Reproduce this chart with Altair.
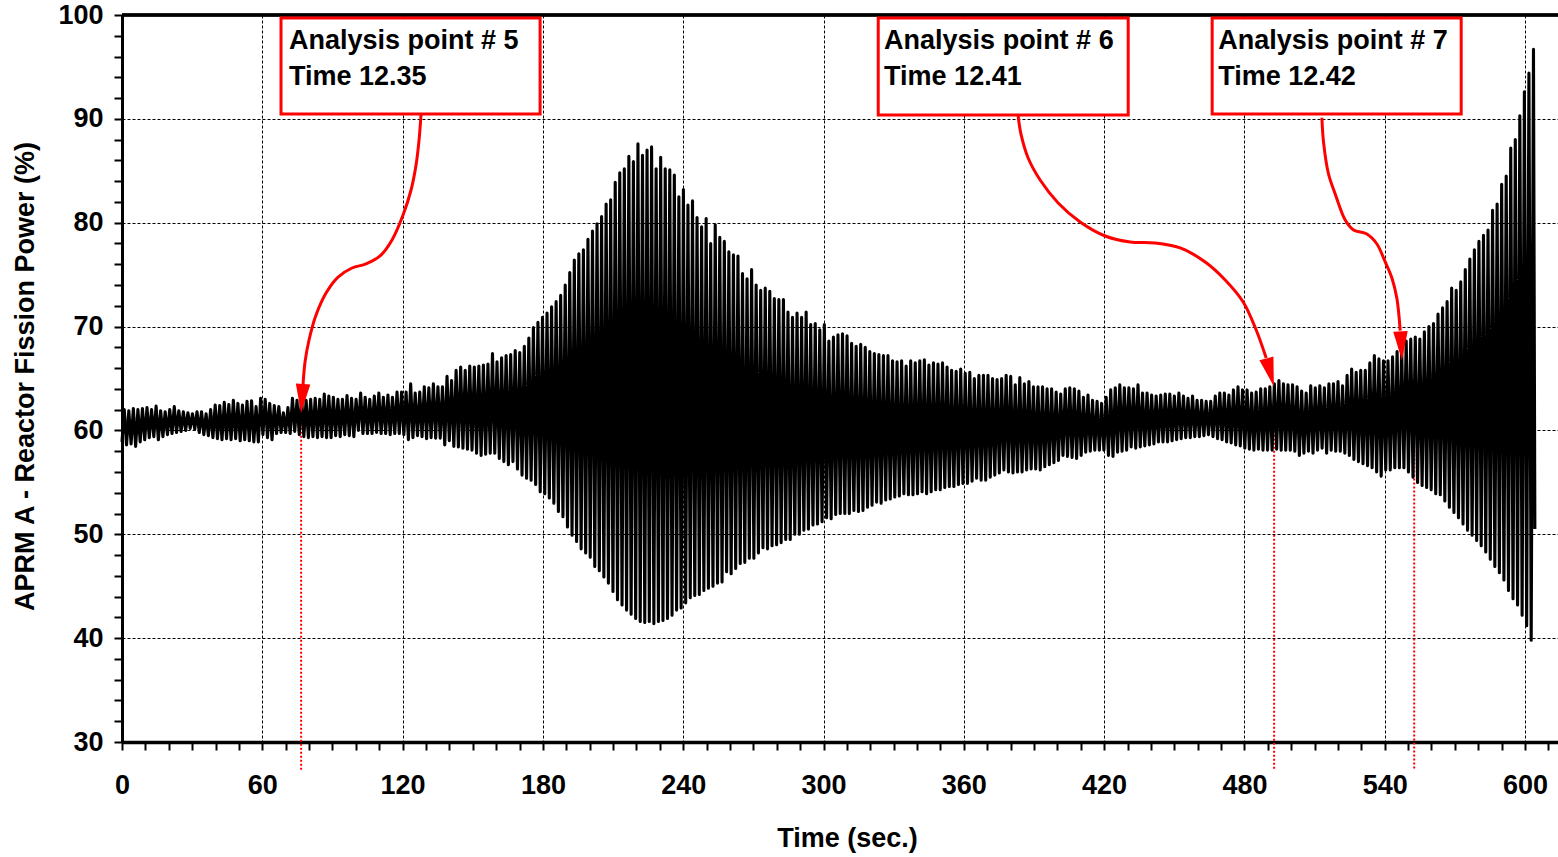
import altair as alt
import pandas as pd

# ---------------- data ----------------
PERIOD = 1.944          # seconds per oscillation cycle
END_TIME = 604.2
END_VALUE = 50.5

# peak value of each cycle (rows of 10 cycles)
peaks = [
    62.0, 61.9, 62.1, 62.0, 62.1, 62.2, 62.0, 62.35, 61.9, 61.8,
    62.0, 62.3, 61.9, 61.8, 61.7, 61.6, 61.8, 61.8, 61.6, 62.0,
    62.45, 62.4, 62.7, 62.5, 62.9, 62.6, 62.45, 62.8, 62.85, 62.3,
    63.1, 63.0, 62.6, 62.4, 62.3, 61.7, 62.2, 63.1, 62.9, 63.3,
    62.9, 63.0, 63.1, 63.0, 63.5, 63.3, 63.2, 63.0, 63.0, 63.35,
    63.1, 63.0, 63.6, 63.2, 63.0, 63.3, 63.6, 63.2, 63.4, 63.2,
    63.7, 63.7, 63.7, 64.5, 63.6, 63.7, 64.2, 64.1, 64.5, 64.2,
    64.2, 65.2, 64.8, 65.8, 66.1, 65.8, 66.2, 66.1, 66.2, 66.3,
    66.4, 67.4, 66.6, 67.0, 67.2, 67.3, 67.7, 67.5, 68.1, 68.9,
    69.9, 70.4, 70.9, 71.3, 71.9, 72.4, 73.0, 74.0, 75.2, 76.4,
    77.0, 77.4, 78.4, 79.2, 79.9, 80.6, 81.8, 82.2, 83.9, 84.8,
    85.2, 86.4, 85.9, 87.6, 86.5, 87.0, 87.3, 85.2, 86.3, 85.2,
    85.1, 84.6, 82.5, 83.2, 81.7, 82.1, 80.5, 79.6, 80.4, 78.0,
    79.8, 78.6, 78.2, 77.2, 76.9, 76.8, 75.1, 74.6, 75.5, 74.0,
    73.5, 73.7, 73.4, 72.7, 72.6, 72.6, 71.4, 70.9, 71.3, 70.9,
    71.4, 70.2, 70.3, 69.7, 70.2, 68.6, 69.0, 69.2, 69.3, 69.1,
    68.4, 68.1, 68.3, 68.0, 67.6, 67.4, 67.3, 67.2, 67.2, 66.7,
    66.6, 66.7, 66.2, 66.7, 66.5, 66.7, 66.8, 66.3, 66.5, 66.4,
    66.5, 66.1, 65.8, 65.7, 65.9, 65.5, 65.6, 65.0, 65.3, 65.3,
    65.3, 65.0, 64.9, 65.0, 65.3, 65.2, 64.4, 65.1, 64.5, 64.7,
    64.2, 64.2, 64.2, 64.0, 64.0, 63.7, 63.5, 64.0, 64.1, 64.0,
    63.8, 63.2, 63.4, 62.9, 62.8, 62.6, 63.2, 63.9, 64.1, 64.4,
    64.1, 64.1, 64.0, 64.4, 63.6, 63.6, 63.4, 63.3, 63.4, 63.5,
    63.5, 63.3, 63.6, 63.3, 63.1, 63.3, 62.9, 62.9, 62.8, 62.8,
    63.3, 63.6, 63.6, 63.4, 63.9, 64.2, 63.9, 63.9, 63.6, 63.7,
    64.0, 64.0, 64.2, 64.5, 64.8, 64.5, 64.4, 64.4, 64.2, 63.8,
    63.6, 64.3, 64.1, 64.3, 64.1, 64.5, 64.5, 64.7, 64.3, 65.3,
    65.9, 65.6, 65.8, 65.8, 66.5, 67.2, 66.9, 66.7, 66.7, 67.1,
    67.6, 68.0, 68.6, 68.8, 69.0, 68.8, 69.5, 70.0, 70.3, 71.2,
    71.8, 72.4, 73.7, 73.5, 74.3, 75.5, 76.5, 77.4, 78.2, 78.8,
    79.3, 81.2, 81.8, 83.7, 84.5, 87.2, 88.0, 90.3, 92.6, 94.4, 96.7,
]

# trough value of each cycle
troughs = [
    58.9, 58.6, 58.7, 58.45, 58.9, 59.1, 59.3, 59.4, 59.1, 59.4,
    59.6, 59.7, 59.8, 59.9, 60.0, 60.2, 60.1, 59.8, 59.6, 59.5,
    59.3, 59.2, 59.1, 59.2, 59.1, 59.2, 59.0, 59.1, 59.0, 58.9,
    58.9, 59.6, 59.3, 59.1, 59.7, 59.8, 59.8, 59.7, 59.9, 59.6,
    59.4, 59.3, 59.4, 59.3, 59.4, 59.3, 59.3, 59.5, 59.4, 59.6,
    59.5, 59.4, 60.0, 59.7, 59.7, 59.7, 59.8, 59.7, 59.7, 59.6,
    59.7, 59.7, 59.6, 59.1, 59.3, 59.5, 59.4, 59.2, 59.3, 59.25,
    59.25, 58.6, 59.0, 58.45, 58.4, 58.3, 58.2, 58.1, 57.8, 57.6,
    57.7, 57.8, 57.8, 57.3, 57.0, 56.7, 57.0, 56.3, 55.7, 55.4,
    55.2, 54.8, 54.1, 53.9, 53.5, 53.0, 52.2, 51.7, 50.7, 49.9,
    49.3, 48.6, 48.2, 47.8, 46.9, 46.5, 45.9, 45.3, 44.5, 43.7,
    43.2, 42.7, 42.3, 41.9, 41.6, 41.5, 41.6, 41.4, 41.6, 41.7,
    41.9, 42.2, 42.7, 42.9, 43.4, 43.9, 44.1, 44.2, 44.6, 44.8,
    45.0, 45.3, 45.4, 46.4, 46.2, 46.7, 47.2, 47.3, 47.7, 47.7,
    48.2, 48.7, 48.6, 48.9, 49.0, 49.2, 49.5, 49.5, 50.0, 50.0,
    50.4, 50.5, 50.9, 51.0, 51.2, 51.6, 51.5, 51.9, 52.0, 52.0,
    52.0, 52.3, 52.2, 52.3, 52.6, 52.8, 53.1, 53.0, 53.3, 53.4,
    53.6, 53.7, 53.9, 53.8, 53.8, 53.9, 54.1, 53.9, 54.1, 54.3,
    54.3, 54.5, 54.6, 54.6, 54.8, 54.9, 54.9, 55.1, 55.4, 55.2,
    55.2, 55.5, 55.7, 55.9, 56.2, 56.0, 55.9, 56.0, 56.0, 56.2,
    56.3, 56.3, 56.2, 56.5, 56.7, 56.9, 57.1, 57.6, 57.5, 57.4,
    57.3, 57.6, 57.9, 58.0, 58.1, 58.1, 58.1, 57.6, 57.5, 57.9,
    58.0, 58.1, 58.4, 58.3, 58.4, 58.5, 58.6, 58.7, 58.9, 58.9,
    58.9, 59.0, 59.1, 59.2, 59.3, 59.3, 59.4, 59.4, 59.5, 59.6,
    59.4, 59.2, 59.1, 58.9, 58.8, 58.6, 58.5, 58.3, 58.2, 58.1,
    58.2, 58.1, 58.1, 58.1, 58.2, 58.1, 58.1, 58.1, 58.0, 57.6,
    57.8, 58.0, 57.8, 58.1, 58.3, 57.8, 58.1, 58.0, 58.0, 57.8,
    57.6, 57.2, 57.0, 56.8, 56.6, 56.4, 56.0, 55.6, 56.2, 56.2,
    56.4, 56.4, 56.4, 56.0, 55.5, 55.0, 54.7, 54.5, 54.3, 53.9,
    53.8, 53.2, 52.6, 52.1, 51.6, 51.0, 50.4, 49.9, 49.4, 48.9,
    48.3, 47.6, 46.9, 46.3, 45.6, 44.6, 43.8, 43.2, 42.2, 41.2, 39.8,
]

# annotation boxes
box_labels = ["Analysis point # 5", "Analysis point # 6", "Analysis point # 7"]
box_times = ["Time 12.35", "Time 12.41", "Time 12.42"]
box_left = [68.0, 323.4, 466.2]
box_right = [178.8, 430.3, 572.7]
box_top = [99.71, 99.71, 99.71]
box_bottom = [90.47, 90.37, 90.47]
text_x = [71.4, 325.9, 468.8]
text_y1 = 97.5
text_y2 = 94.03

# curved arrows (time, power)
arrow_paths = [
    [(127.89, 90.47), (127.03, 87.96), (125.75, 85.56), (123.61, 83.15), (120.19, 80.74),
     (115.48, 78.34), (110.35, 76.80), (104.36, 76.03), (98.38, 75.64), (92.39, 74.77),
     (87.26, 73.23), (82.98, 71.11), (79.98, 68.71), (78.27, 66.59), (77.42, 64.38)],
    [(383.23, 90.28), (384.52, 88.45), (387.51, 86.23), (392.64, 84.11), (400.34, 81.90),
     (409.75, 80.07), (420.44, 78.72), (431.14, 78.14), (441.83, 78.05), (452.52, 77.57),
     (463.22, 76.22), (471.77, 74.49), (479.47, 72.37), (485.03, 69.67), (489.31, 66.97)],
    [(513.13, 90.11), (513.82, 87.79), (515.96, 84.69), (518.82, 82.77), (523.10, 80.26),
     (526.65, 79.30), (532.38, 78.91), (536.66, 77.95), (540.21, 76.22), (543.07, 74.68),
     (545.21, 72.70), (546.62, 69.60)],
]
head_t = [77.0, 491.0, 547.05]
head_v = [63.08, 65.58, 68.15]
head_angle = [4, 345, 357]

# red dotted markers
marker_t = [76.6, 492.7, 552.6]
marker_top = [61.8, 64.2, 59.6]
marker_bottom = 27.3

# ---------------- tables ----------------
rows = []
for i, (tr, pk) in enumerate(zip(troughs, peaks)):
    rows.append({"t": i * PERIOD, "v": tr})
    rows.append({"t": i * PERIOD + PERIOD / 2, "v": pk})
rows.append({"t": END_TIME, "v": END_VALUE})
signal = pd.DataFrame(rows)

arrows = pd.DataFrame([
    {"arrow": k, "order": j, "t": p[0], "v": p[1]}
    for k, path in enumerate(arrow_paths) for j, p in enumerate(path)
])
heads = pd.DataFrame({"t": head_t, "v": head_v, "ang": head_angle})
markers = pd.DataFrame({"t": marker_t, "v": marker_top, "v2": [marker_bottom] * 3})
boxes = pd.DataFrame({"t": box_left, "t2": box_right, "v": box_top, "v2": box_bottom})
texts = pd.DataFrame({
    "t": text_x * 2,
    "v": [text_y1] * 3 + [text_y2] * 3,
    "label": box_labels + box_times,
})

# ---------------- chart ----------------
W, H = 1436, 727
FONT = "Liberation Sans"
RED = "#ff0000"
xscale = alt.Scale(domain=[0, 614.1], nice=False, zero=False)
yscale = alt.Scale(domain=[30, 100], nice=False, zero=False)

x_axis = alt.Axis(
    values=list(range(0, 611, 10)),
    labelExpr="datum.value % 60 === 0 ? datum.label : ''",
    title="Time (sec.)",
    grid=True,
    gridOpacity={"condition": {"test": "datum.value % 60 === 0", "value": 1}, "value": 0},
    gridColor="black", gridDash=[3, 2], gridWidth=1,
    domainColor="black", domainWidth=3.5,
    tickColor="black", tickWidth=2, tickSize=8,
    labelFont=FONT, labelFontWeight="bold", labelFontSize=27, labelColor="black",
    labelBaseline="middle", labelPadding=35, labelFlush=False, labelOverlap=False,
    titleFont=FONT, titleFontWeight="bold", titleFontSize=27, titleColor="black",
    titleX=725, titleY=96, titleBaseline="middle", titleAlign="center",
)
y_axis = alt.Axis(
    values=list(range(30, 101, 2)),
    labelExpr="datum.value % 10 === 0 ? datum.label : ''",
    title="APRM A - Reactor Fission Power (%)",
    grid=True,
    gridOpacity={"condition": {"test": "datum.value % 10 === 0", "value": 1}, "value": 0},
    gridColor="black", gridDash=[3, 2], gridWidth=1,
    domainColor="black", domainWidth=3,
    tickColor="black", tickWidth=2, tickSize=8,
    labelFont=FONT, labelFontWeight="bold", labelFontSize=27, labelColor="black",
    labelBaseline="middle", labelPadding=11, labelFlush=False, labelOverlap=False,
    titleFont=FONT, titleFontWeight="bold", titleFontSize=27, titleColor="black",
    titleX=-97, titleY=361, titleBaseline="middle", titleAlign="center", titleAngle=270,
)

X = alt.X("t:Q", scale=xscale, axis=x_axis)
Y = alt.Y("v:Q", scale=yscale, axis=y_axis)

marker_layer = alt.Chart(markers).mark_rule(
    color=RED, strokeWidth=2, strokeDash=[2, 2]
).encode(x=X, y=Y, y2="v2:Q")

signal_layer = alt.Chart(signal).mark_line(
    color="black", strokeWidth=3.1, strokeJoin="round"
).encode(x=X, y=Y)

top_border = alt.Chart(markers).mark_rule(color="black", strokeWidth=3).encode(
    x=alt.value(0), x2=alt.value(W), y=alt.value(0)
)

box_layer = alt.Chart(boxes).mark_rect(
    fill="white", stroke=RED, strokeWidth=3
).encode(x=X, x2="t2:Q", y=Y, y2="v2:Q")

text_layer = alt.Chart(texts).mark_text(
    align="left", baseline="middle", font=FONT, fontWeight="bold",
    fontSize=27, color="black"
).encode(x=X, y=Y, text="label:N")

arrow_layer = alt.Chart(arrows).mark_line(
    color=RED, strokeWidth=3, interpolate="catmull-rom"
).encode(x=X, y=Y, detail="arrow:N", order="order:Q")

head_layer = alt.Chart(heads).mark_point(
    shape="M -0.5 -1 L 0.5 -1 L 0 1 Z", filled=True, color=RED,
    size=841, opacity=1, strokeWidth=0
).encode(x=X, y=Y, angle=alt.Angle("ang:Q", scale=None))

chart = alt.layer(
    marker_layer, signal_layer, top_border, box_layer, text_layer, arrow_layer, head_layer
).properties(
    width=W, height=H,
    padding={"left": 122, "top": 15, "right": 0, "bottom": 115},
    autosize=alt.AutoSizeParams(type="none"),
    background="white",
).configure_view(stroke=None)

chart.save("out.html", embed_options={"renderer": "svg", "actions": False})
